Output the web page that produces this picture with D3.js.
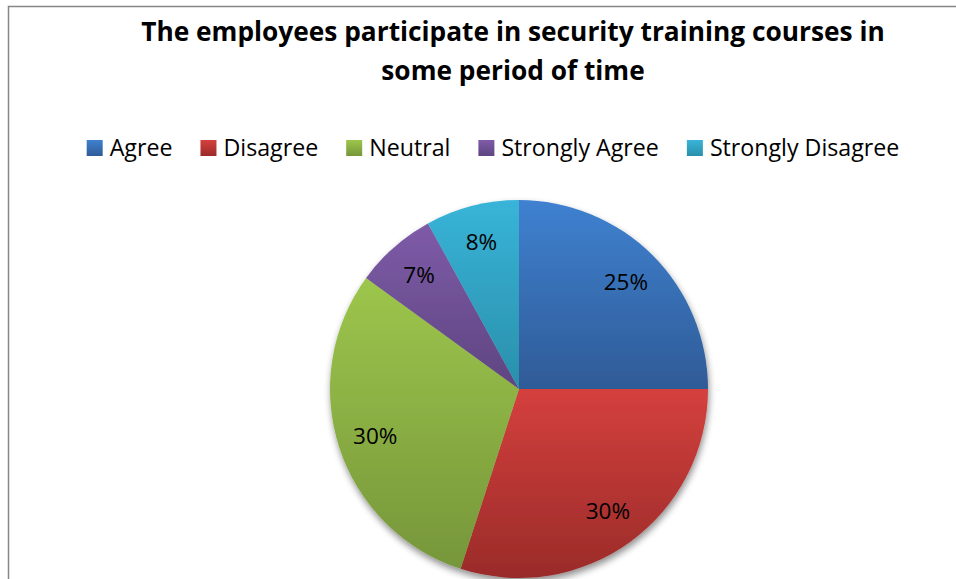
<!DOCTYPE html>
<html>
<head>
<meta charset="utf-8">
<script src="https://cdn.jsdelivr.net/npm/d3@7/dist/d3.min.js"></script>
<style>
  html, body { margin: 0; padding: 0; background: #ffffff; }
  svg { display: block; }
  text { font-family: "Open Sans", "Liberation Sans", sans-serif; fill: #000; }
</style>
</head>
<body>
<svg id="chart" width="956" height="579"></svg>
<script>
// Survey answers and their shares (percent)
const categories = ["Agree", "Disagree", "Neutral", "Strongly Agree", "Strongly Disagree"];
const values = [25, 30, 30, 7, 8];
const labels = ["25%", "30%", "30%", "7%", "8%"];
const titleLines = ["The employees participate in security training courses in", "some period of time"];
// light (top) and dark (bottom) shade of each slice
const lightColors = ["#3f81d0", "#d4403d", "#9dc64c", "#7e5ba8", "#38b4d8"];
const darkColors  = ["#2f5b97", "#9a2b29", "#76963a", "#5e4580", "#2a8fab"];

const W = 956, H = 579;
const svg = d3.select("#chart");
const defs = svg.append("defs");

// chart frame
svg.append("rect")
  .attr("x", 8.5).attr("y", 6.5)
  .attr("width", 1000).attr("height", 700)
  .attr("fill", "#fff")
  .attr("stroke", "#868686").attr("stroke-width", 1.5);

// title
const title = svg.append("g");
titleLines.forEach((t, i) => {
  title.append("text")
    .attr("x", 513).attr("y", 41 + i * 39)
    .attr("text-anchor", "middle")
    .attr("font-weight", "bold")
    .attr("font-size", 26)
    .text(t);
});
// fit the first title line to its width
const t0 = title.select("text").node();
const w0 = t0.getComputedTextLength();
const titleSize = 26 * 744 / w0;
title.selectAll("text").attr("font-size", titleSize);

// gradients per slice
categories.forEach((c, i) => {
  const g = defs.append("linearGradient")
    .attr("id", "grad" + i)
    .attr("x1", 0).attr("y1", 0).attr("x2", 0).attr("y2", 1);
  g.append("stop").attr("offset", "0%").attr("stop-color", lightColors[i]);
  g.append("stop").attr("offset", "100%").attr("stop-color", darkColors[i]);
});

// soft shadow under the pie
const f = defs.append("filter").attr("id", "shadow")
  .attr("x", "-10%").attr("y", "-10%").attr("width", "120%").attr("height", "125%");
f.append("feGaussianBlur").attr("in", "SourceAlpha").attr("stdDeviation", 3.5).attr("result", "b");
f.append("feOffset").attr("in", "b").attr("dx", 1).attr("dy", 4).attr("result", "o");
f.append("feComponentTransfer").attr("in", "o").attr("result", "s")
  .append("feFuncA").attr("type", "linear").attr("slope", 0.45);
const fm = f.append("feMerge");
fm.append("feMergeNode").attr("in", "s");
fm.append("feMergeNode").attr("in", "SourceGraphic");

// legend
const legend = svg.append("g");
const legendFont = 23.2;
const swatch = 16, gapText = 7, gapItem = 28;
const items = legend.selectAll("g").data(categories).join("g");
items.append("rect")
  .attr("width", swatch).attr("height", swatch)
  .attr("y", 140)
  .attr("fill", (d, i) => `url(#grad${i})`);
items.append("text")
  .attr("x", swatch + gapText).attr("y", 156)
  .attr("font-size", legendFont)
  .text(d => d);
const legendWidths = [];
items.each(function () {
  const tw = d3.select(this).select("text").node().getComputedTextLength();
  legendWidths.push(swatch + gapText + tw);
});
const totalW = d3.sum(legendWidths) + gapItem * (categories.length - 1);
let lx = 493 - totalW / 2;
items.attr("transform", (d, i) => {
  const x = lx;
  lx += legendWidths[i] + gapItem;
  return `translate(${x},0)`;
});

// pie
const cx = 519, cy = 389, r = 189;
const pie = d3.pie().sort(null).value(d => d)(values);
const arc = d3.arc().innerRadius(0).outerRadius(r);
const labelArc = d3.arc().innerRadius(r * 0.8).outerRadius(r * 0.8);

const pieG = svg.append("g").attr("transform", `translate(${cx},${cy})`);
const slices = pieG.append("g").attr("filter", "url(#shadow)");
slices.selectAll("path").data(pie).join("path")
  .attr("d", arc)
  .attr("fill", (d, i) => `url(#grad${i})`);

pieG.selectAll("text.lbl").data(pie).join("text")
  .attr("class", "lbl")
  .attr("transform", d => `translate(${labelArc.centroid(d)})`)
  .attr("text-anchor", "middle")
  .attr("dy", "0.35em")
  .attr("font-size", 22.5)
  .text((d, i) => labels[i]);
</script>
</body>
</html>
